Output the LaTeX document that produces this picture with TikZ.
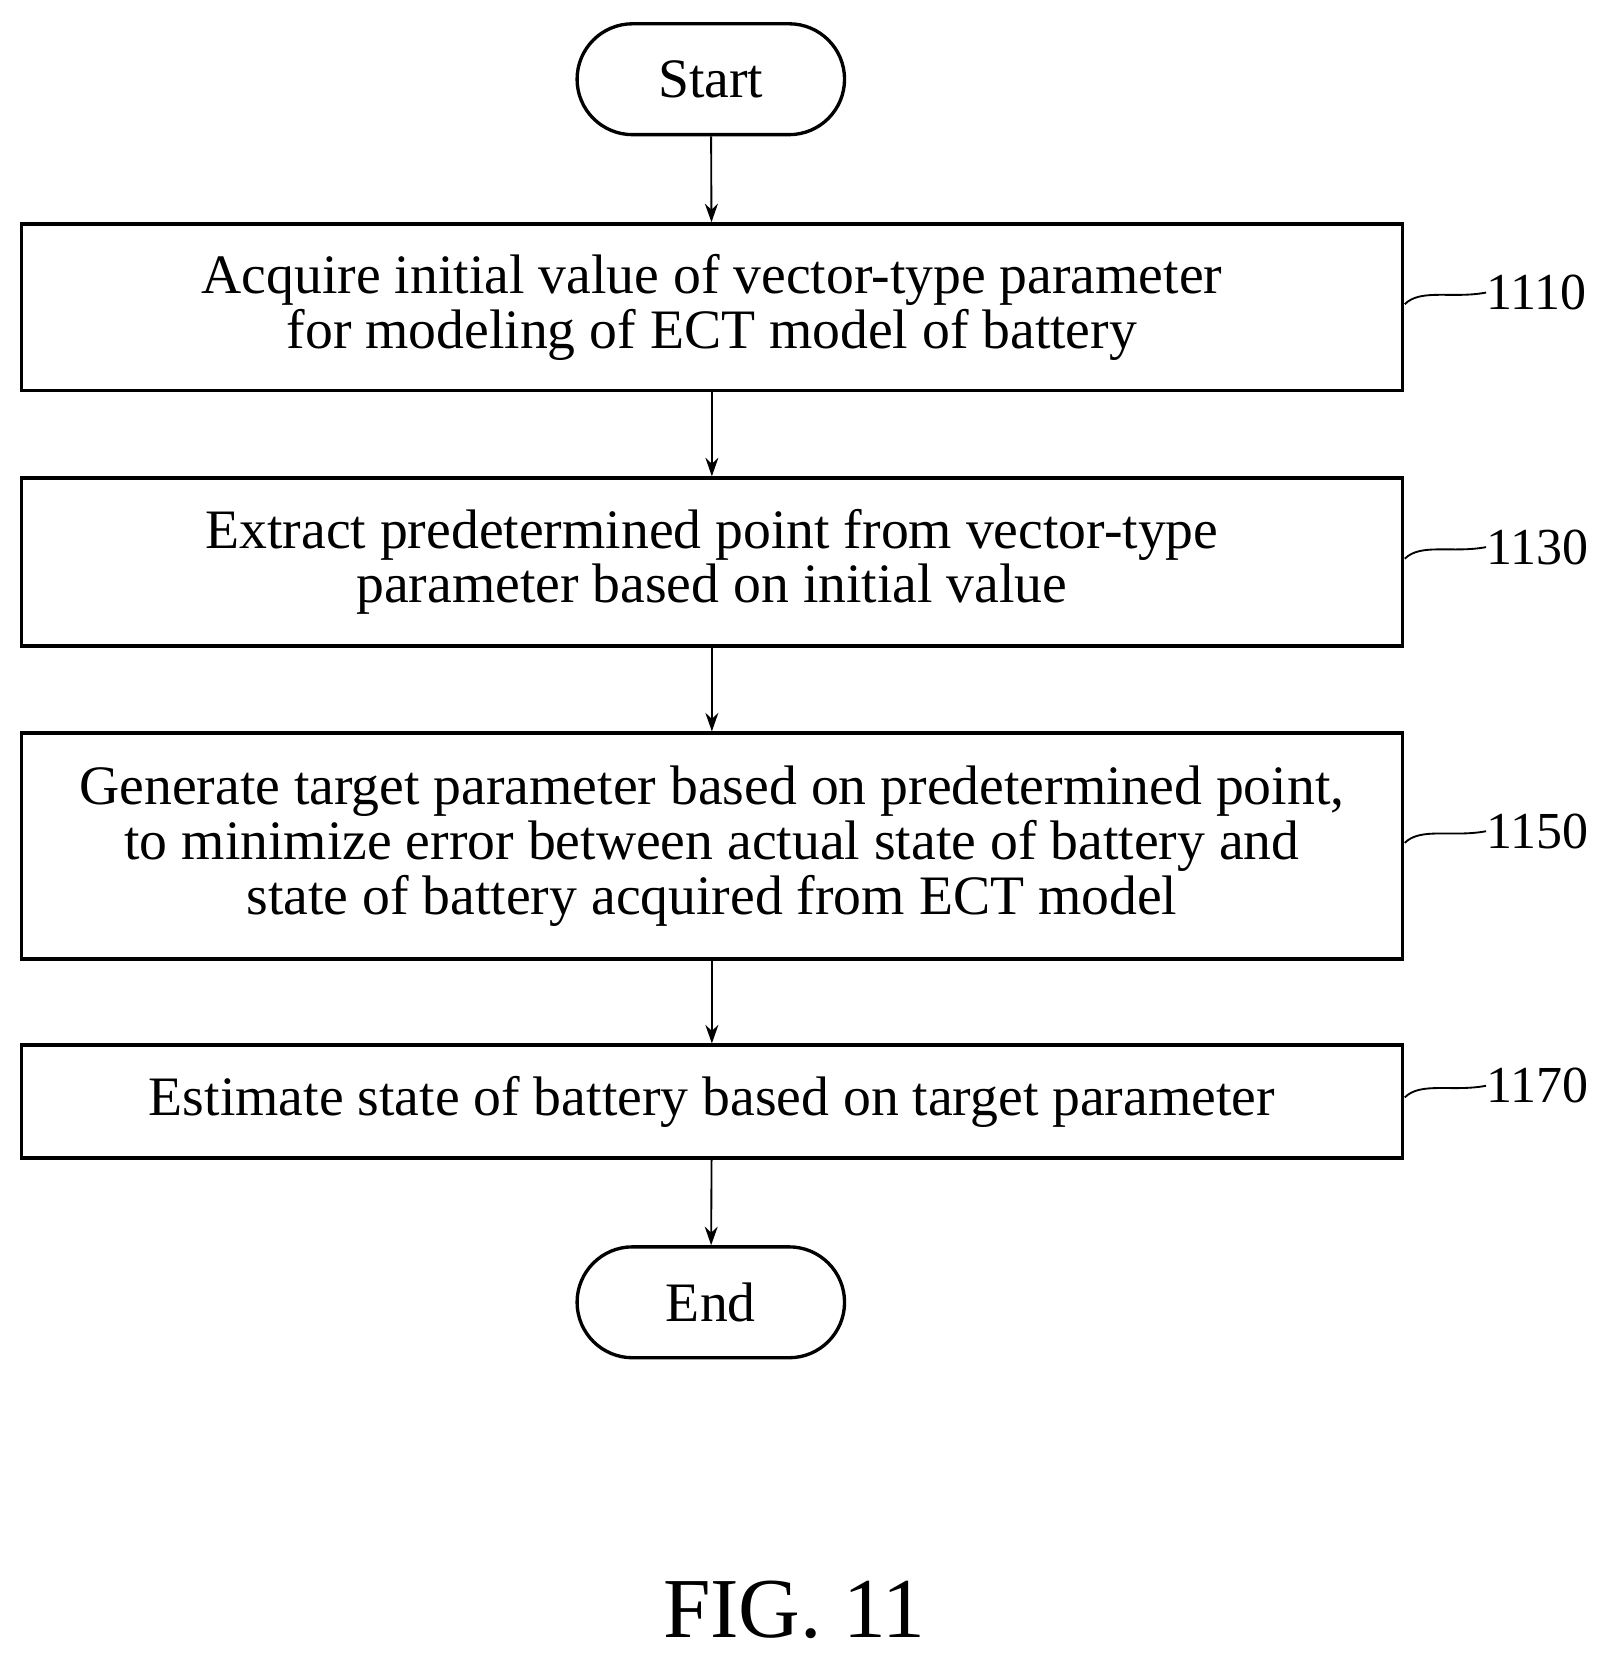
\documentclass[tikz,border=0pt]{standalone}
\usepackage{fontspec}
\setmainfont{Liberation Serif}
\usetikzlibrary{arrows.meta,shapes.misc}
\begin{document}
\begin{tikzpicture}[x=0.02cm,y=-0.02cm,
  box/.style={draw,line width=1.8pt,minimum width=26.16cm,align=center,font=\fontsize{30}{29.5}\selectfont,inner sep=0pt},
  term/.style={draw,line width=1.8pt,rounded rectangle,minimum width=5.3cm,minimum height=2.1cm,font=\fontsize{30}{29.5}\selectfont},
  arr/.style={line width=1pt,-{Stealth[length=10pt,width=7pt]}},
  lbl/.style={font=\fontsize{28}{29}\selectfont,anchor=west,inner sep=0pt},
  lead/.style={line width=1pt}]
\useasboundingbox (0,0) rectangle (1523,1566);
\node[term] (s) at (673,75) {Start};
\node[box,minimum height=3.16cm] (b1) at (674,291) {Acquire initial value of vector-type parameter\\for modeling of ECT model of battery};
\node[box,minimum height=3.18cm] (b2) at (674,532) {Extract predetermined point from vector-type\\parameter based on initial value};
\node[box,minimum height=4.28cm] (b3) at (674,801) {Generate target parameter based on predetermined point,\\to minimize error between actual state of battery and\\state of battery acquired from ECT model};
\node[box,minimum height=2.14cm] (b4) at (674,1043) {Estimate state of battery based on target parameter};
\node[term] (e) at (673,1233) {End};
\draw[arr] (s) -- (b1);
\draw[arr] (b1) -- (b2);
\draw[arr] (b2) -- (b3);
\draw[arr] (b3) -- (b4);
\draw[arr] (b4) -- (e);
\foreach \n/\y/\t in {l1/277/1110,l2/518/1130,l3/787/1150,l4/1028/1170}{
  \node[lbl] (\n) at (1407,\y) {\t};
  \draw[lead] (1330,\y+11) .. controls (1345,\y-4) and (1375,\y+6) .. (\n.west);
}
\node[font=\fontsize{46}{50}\selectfont] (fig) at (752,1524) {FIG. 11};
\end{tikzpicture}
\end{document}
